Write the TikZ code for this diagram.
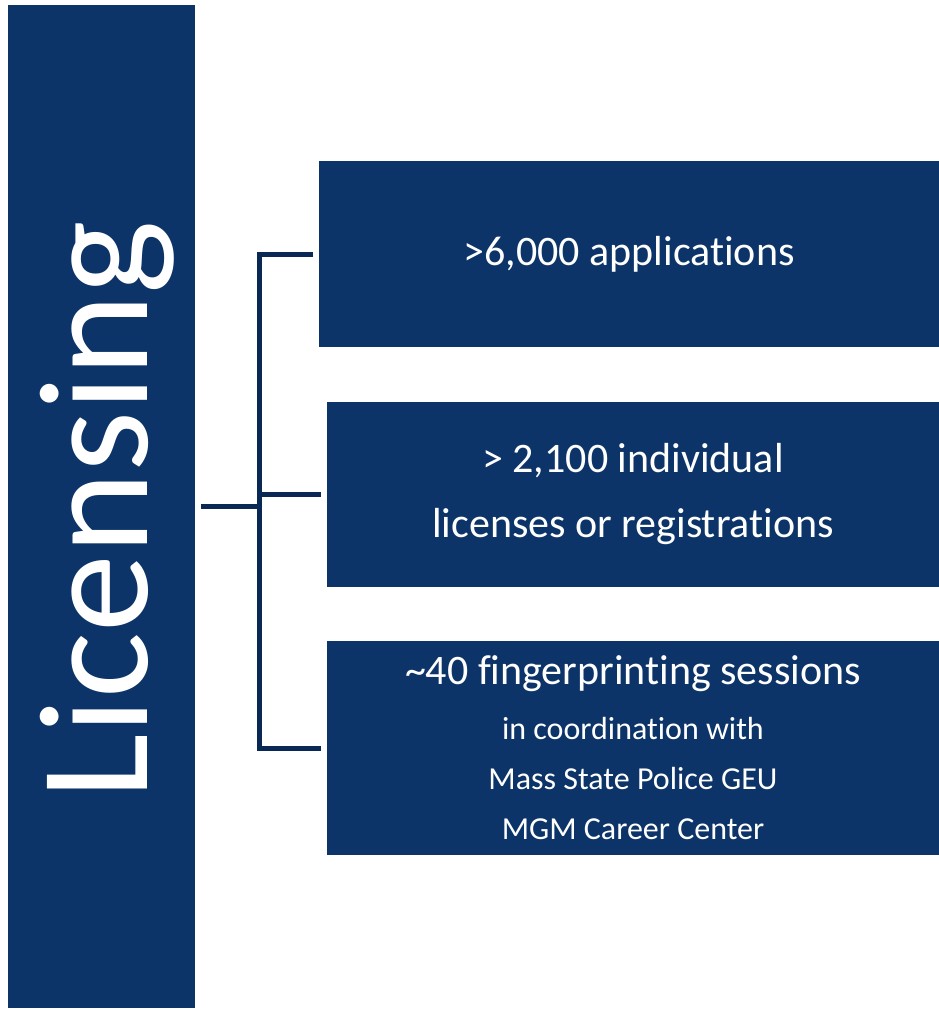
\documentclass[tikz,border=0pt]{standalone}
\usepackage{fontspec}
\setmainfont{Carlito}[Ligatures=NoCommon]
\definecolor{navy}{RGB}{12,52,104}
\definecolor{darknavy}{RGB}{9,40,84}

\begin{document}
\begin{tikzpicture}[x=1pt,y=1pt,
	box/.style={fill=navy,draw=none,inner sep=0,outer sep=0,text=white,align=center},
	link/.style={draw=darknavy,line width=5pt}]
	\useasboundingbox (0,0) rectangle (939,-1009);
	\node[box,minimum width=187,minimum height=1003] (lic) at (101.5,-506.5) {};
	\node[text=white,rotate=90,anchor=base,inner sep=0,font=\fontsize{156}{156}\selectfont] (lictext) at (147,-510) {Licensing};
	\node[box,minimum width=620,minimum height=186,font=\fontsize{42}{50}\selectfont] (apps) at (629,-254) {>6,000 applications};
	\node[box,minimum width=612,minimum height=185,font=\fontsize{42}{65}\selectfont] (lics) at (633,-494.5) {> 2,100 individual\\licenses or registrations};
	\node[box,minimum width=612,minimum height=214,font=\fontsize{42}{50}\selectfont] (prints) at (633,-748) {\textasciitilde40 fingerprinting sessions\\[5pt]
		\fontsize{32}{48}\selectfont in coordination with\\
		\fontsize{32}{48}\selectfont Mass State Police GEU\\
		\fontsize{32}{48}\selectfont MGM Career Center};
	\path (lic.east) ++(64,0) coordinate (trunk);
	\draw[link,shorten <=6pt] (lic.east) -- (trunk);
	\draw[link,shorten <=6pt] (apps.west) -| (trunk);
	\draw[link,shorten >=6pt] (trunk) |- (prints.west);
	\draw[link,shorten >=6pt] (trunk |- lics.west) -- (lics.west);
\end{tikzpicture}
\end{document}
